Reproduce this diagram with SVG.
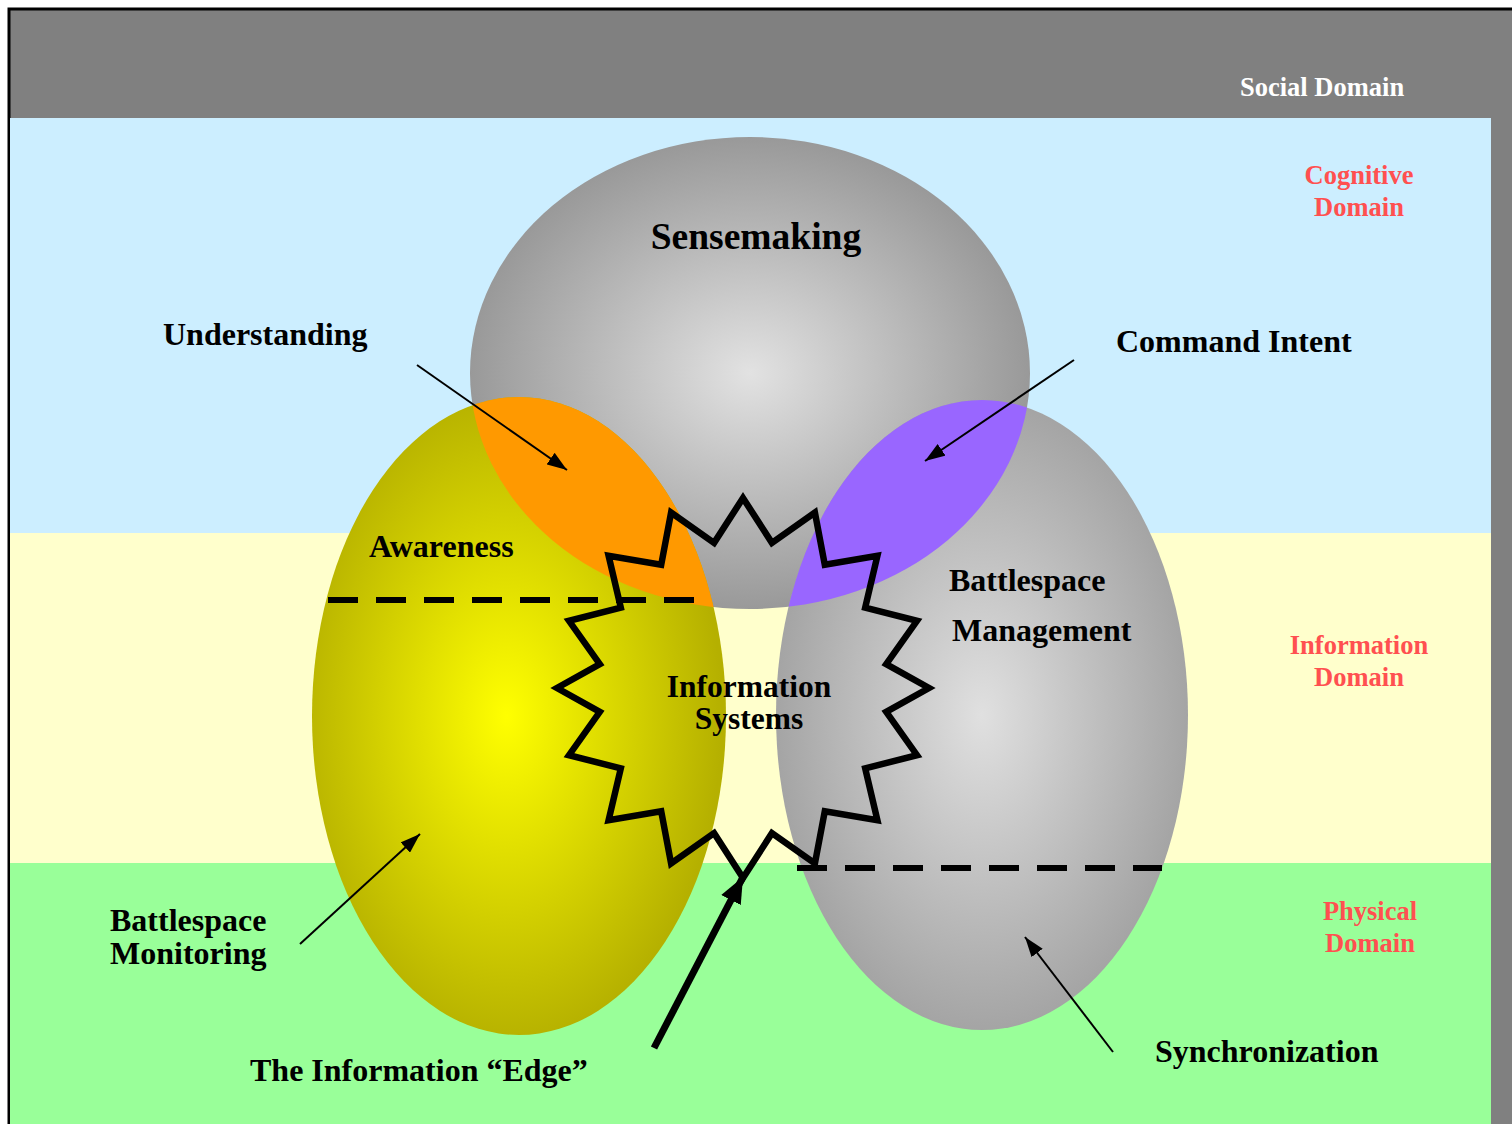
<svg xmlns="http://www.w3.org/2000/svg" width="1512" height="1124" viewBox="0 0 1512 1124">
<style>
.lbl{font-family:"Liberation Serif","Times New Roman",serif;font-weight:bold;fill:#000}
.dom{font-family:"Liberation Serif","Times New Roman",serif;font-weight:bold;font-size:26.5px;fill:#ff5050;text-anchor:middle}
.thin{stroke:#000;stroke-width:2;fill:none}
.dash{stroke:#000;stroke-width:6;stroke-dasharray:30 18;fill:none}
</style>
<defs>
<radialGradient id="gSense" cx="50%" cy="50%" r="50%">
<stop offset="0" stop-color="#e2e2e2"/>
<stop offset="1" stop-color="#999999"/>
</radialGradient>
<radialGradient id="gYel" cx="47%" cy="50%" r="52%">
<stop offset="0" stop-color="#ffff00"/>
<stop offset="1" stop-color="#b5b000"/>
</radialGradient>
<radialGradient id="gGray" cx="50%" cy="50%" r="52%">
<stop offset="0" stop-color="#e0e0e0"/>
<stop offset="1" stop-color="#a2a2a2"/>
</radialGradient>
<clipPath id="clipSense">
<ellipse cx="750" cy="373" rx="280" ry="236"/>
</clipPath>
<marker id="ah" viewBox="0 0 20 14" refX="20" refY="7" markerWidth="20" markerHeight="14" markerUnits="userSpaceOnUse" orient="auto">
<path d="M0,0 L20,7 L0,14 Z" fill="#000"/>
</marker>
<marker id="ahBig" viewBox="0 0 26 22" refX="26" refY="11" markerWidth="26" markerHeight="22" markerUnits="userSpaceOnUse" orient="auto">
<path d="M0,0 L26,11 L0,22 Z" fill="#000"/>
</marker>
</defs>

<g id="background">
<rect x="9" y="9" width="1510" height="1120" fill="#808080" stroke="#000" stroke-width="3"/>
<rect x="10" y="118" width="1481" height="415" fill="#cceeff"/>
<rect x="10" y="533" width="1481" height="330" fill="#ffffcc"/>
<rect x="10" y="863" width="1481" height="261" fill="#99ff99"/>
</g>

<g id="domain-labels">
<text class="lbl" x="1240" y="96" font-size="26.5" style="fill:#ffffff">Social Domain</text>
<text class="dom" x="1359" y="184">Cognitive</text>
<text class="dom" x="1359" y="216">Domain</text>
<text class="dom" x="1359" y="654">Information</text>
<text class="dom" x="1359" y="686">Domain</text>
<text class="dom" x="1370" y="920">Physical</text>
<text class="dom" x="1370" y="952">Domain</text>
</g>

<g id="sensemaking">
<ellipse cx="750" cy="373" rx="280" ry="236" fill="url(#gSense)"/>
</g>
<g id="awareness">
<ellipse cx="519" cy="716" rx="207" ry="319" fill="url(#gYel)"/>
</g>
<g id="battlespace-management">
<ellipse cx="982" cy="715" rx="206" ry="315" fill="url(#gGray)"/>
</g>
<g id="understanding-lens" clip-path="url(#clipSense)">
<ellipse cx="519" cy="716" rx="207" ry="319" fill="#ff9900"/>
</g>
<g id="command-intent-lens" clip-path="url(#clipSense)">
<ellipse cx="982" cy="715" rx="206" ry="315" fill="#9966ff"/>
</g>

<g id="connectors">
<line class="dash" x1="328" y1="600" x2="712" y2="600"/>
<line class="dash" x1="797" y1="868" x2="1162" y2="868"/>
<line class="thin" x1="417" y1="365" x2="567" y2="470" marker-end="url(#ah)"/>
<line class="thin" x1="1074" y1="360" x2="925" y2="461" marker-end="url(#ah)"/>
<line class="thin" x1="300" y1="944" x2="420" y2="834" marker-end="url(#ah)"/>
<line class="thin" x1="1113" y1="1052" x2="1025" y2="937" marker-end="url(#ah)"/>
</g>

<g id="information-systems">
<polygon points="743.0,498.0 771.9,542.8 814.9,512.5 824.8,564.8 877.4,555.7 865.2,607.6 917.0,620.8 886.2,664.1 929.0,688.0 886.2,711.9 917.0,755.2 865.2,768.4 877.4,820.3 824.8,811.2 814.9,863.5 771.9,833.2 743.0,878.0 714.1,833.2 671.1,863.5 661.2,811.2 608.6,820.3 620.8,768.4 569.0,755.2 599.8,711.9 557.0,688.0 599.8,664.1 569.0,620.8 620.8,607.6 608.6,555.7 661.2,564.8 671.1,512.5 714.1,542.8" fill="none" stroke="#000" stroke-width="6.5" stroke-linejoin="miter"/>
<text class="lbl" font-size="31.5" text-anchor="middle" x="749" y="697">Information</text>
<text class="lbl" font-size="31.5" text-anchor="middle" x="749" y="729">Systems</text>
</g>

<g id="edge-arrow">
<line x1="654" y1="1048" x2="743" y2="877" stroke="#000" stroke-width="7" marker-end="url(#ahBig)"/>
</g>

<g id="labels">
<text class="lbl" font-size="37.5" text-anchor="middle" x="756" y="249">Sensemaking</text>
<text class="lbl" font-size="32" x="163" y="345">Understanding</text>
<text class="lbl" font-size="32" x="1116" y="352">Command Intent</text>
<text class="lbl" font-size="32" x="369" y="557">Awareness</text>
<text class="lbl" font-size="32" x="949" y="591">Battlespace</text>
<text class="lbl" font-size="32" x="952" y="641">Management</text>
<text class="lbl" font-size="32" x="110" y="931">Battlespace</text>
<text class="lbl" font-size="32" x="110" y="964">Monitoring</text>
<text class="lbl" font-size="32" x="250" y="1081">The Information “Edge”</text>
<text class="lbl" font-size="32" x="1155" y="1062">Synchronization</text>
</g>
</svg>
